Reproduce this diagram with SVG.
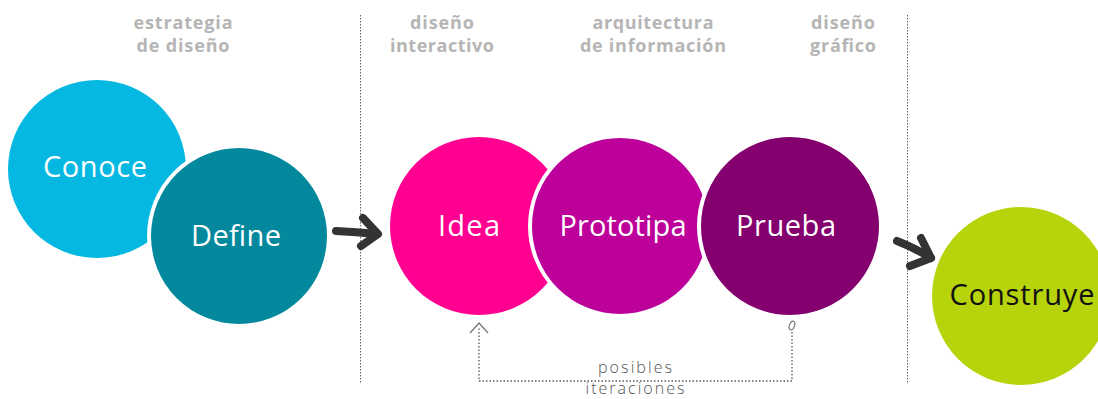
<svg xmlns="http://www.w3.org/2000/svg" width="1098" height="399" viewBox="0 0 1098 399">
<defs>
<style>
.hdr{font-family:"Open Sans","Liberation Sans",sans-serif;font-weight:700;font-size:18px;fill:#b5b5b5;text-anchor:middle}
.lbl{font-family:"Open Sans","Liberation Sans",sans-serif;font-weight:500;font-size:29px;fill:#ffffff;text-anchor:middle}
.sep{stroke:#666;stroke-width:1;stroke-dasharray:1.5 1.5;fill:none}
.loop{stroke:#555;stroke-width:1.3;stroke-dasharray:1.5 2;fill:none}
.arrow{stroke:#333;stroke-width:8;stroke-linecap:round;stroke-linejoin:round;fill:none}
.note{font-family:"Open Sans","Liberation Sans",sans-serif;font-weight:300;font-size:16px;fill:#555;text-anchor:middle}
.ring{stroke:#fff;stroke-width:4}
</style>
</defs>
<rect width="1098" height="399" fill="#fff"/>
<g id="headers">
<text class="hdr" x="183" y="29" textLength="99" lengthAdjust="spacing">estrategia</text>
<text class="hdr" x="183" y="52" textLength="93" lengthAdjust="spacing">de diseño</text>
<text class="hdr" x="442" y="29" textLength="64" lengthAdjust="spacing">diseño</text>
<text class="hdr" x="442" y="52" textLength="104" lengthAdjust="spacing">interactivo</text>
<text class="hdr" x="653" y="29" textLength="121" lengthAdjust="spacing">arquitectura</text>
<text class="hdr" x="653" y="52" textLength="146" lengthAdjust="spacing">de información</text>
<text class="hdr" x="843" y="29" textLength="64" lengthAdjust="spacing">diseño</text>
<text class="hdr" x="843" y="52" textLength="66" lengthAdjust="spacing">gráfico</text>
</g>
<g id="separators">
<line class="sep" x1="360.5" y1="15" x2="360.5" y2="383"/>
<line class="sep" x1="907.5" y1="15" x2="907.5" y2="383"/>
</g>
<g id="conoce">
<circle cx="97" cy="169" r="89" fill="#04b8e2"/>
<text class="lbl" x="95" y="177" textLength="104" lengthAdjust="spacing">Conoce</text>
</g>
<g id="define">
<circle class="ring" cx="239" cy="236" r="90" fill="#03889e"/>
<text class="lbl" x="236" y="246" textLength="90" lengthAdjust="spacing">Define</text>
</g>
<g id="idea">
<circle cx="479" cy="226" r="89" fill="#ff0090"/>
<text class="lbl" x="469" y="236" textLength="62" lengthAdjust="spacing">Idea</text>
</g>
<g id="prototipa">
<circle class="ring" cx="620" cy="226" r="90" fill="#be009b"/>
<text class="lbl" x="623" y="236" textLength="127" lengthAdjust="spacing">Prototipa</text>
</g>
<g id="prueba">
<circle class="ring" cx="790" cy="226" r="91" fill="#84006f"/>
<text class="lbl" x="786" y="236" textLength="100" lengthAdjust="spacing">Prueba</text>
</g>
<g id="construye">
<circle cx="1021" cy="296" r="89" fill="#b6d30b"/>
<text class="lbl" x="1022" y="305" textLength="145" lengthAdjust="spacing" style="fill:#111">Construye</text>
</g>
<g id="connectors">
<path class="arrow" d="M336 231 Q356 232 377 234"/>
<path class="arrow" d="M363 218 L378 234 L361 246"/>
<path class="arrow" d="M897 241 Q915 248 931 258"/>
<path class="arrow" d="M921 238 L931 258 L910 266"/>
<path class="loop" d="M792 332 L792 381 L479 381 L479 327"/>
<path d="M470 333 L479 323 L488 333" fill="none" stroke="#777" stroke-width="1.3"/>
<ellipse cx="792" cy="325.5" rx="2.5" ry="4.5" transform="rotate(20 792 325.5)" fill="none" stroke="#777" stroke-width="1.2"/>
</g>
<g id="loop-label">
<text class="note" x="635" y="373" textLength="74" lengthAdjust="spacing">posibles</text>
<text class="note" x="635" y="394" textLength="99" lengthAdjust="spacing">iteraciones</text>
</g>
</svg>
